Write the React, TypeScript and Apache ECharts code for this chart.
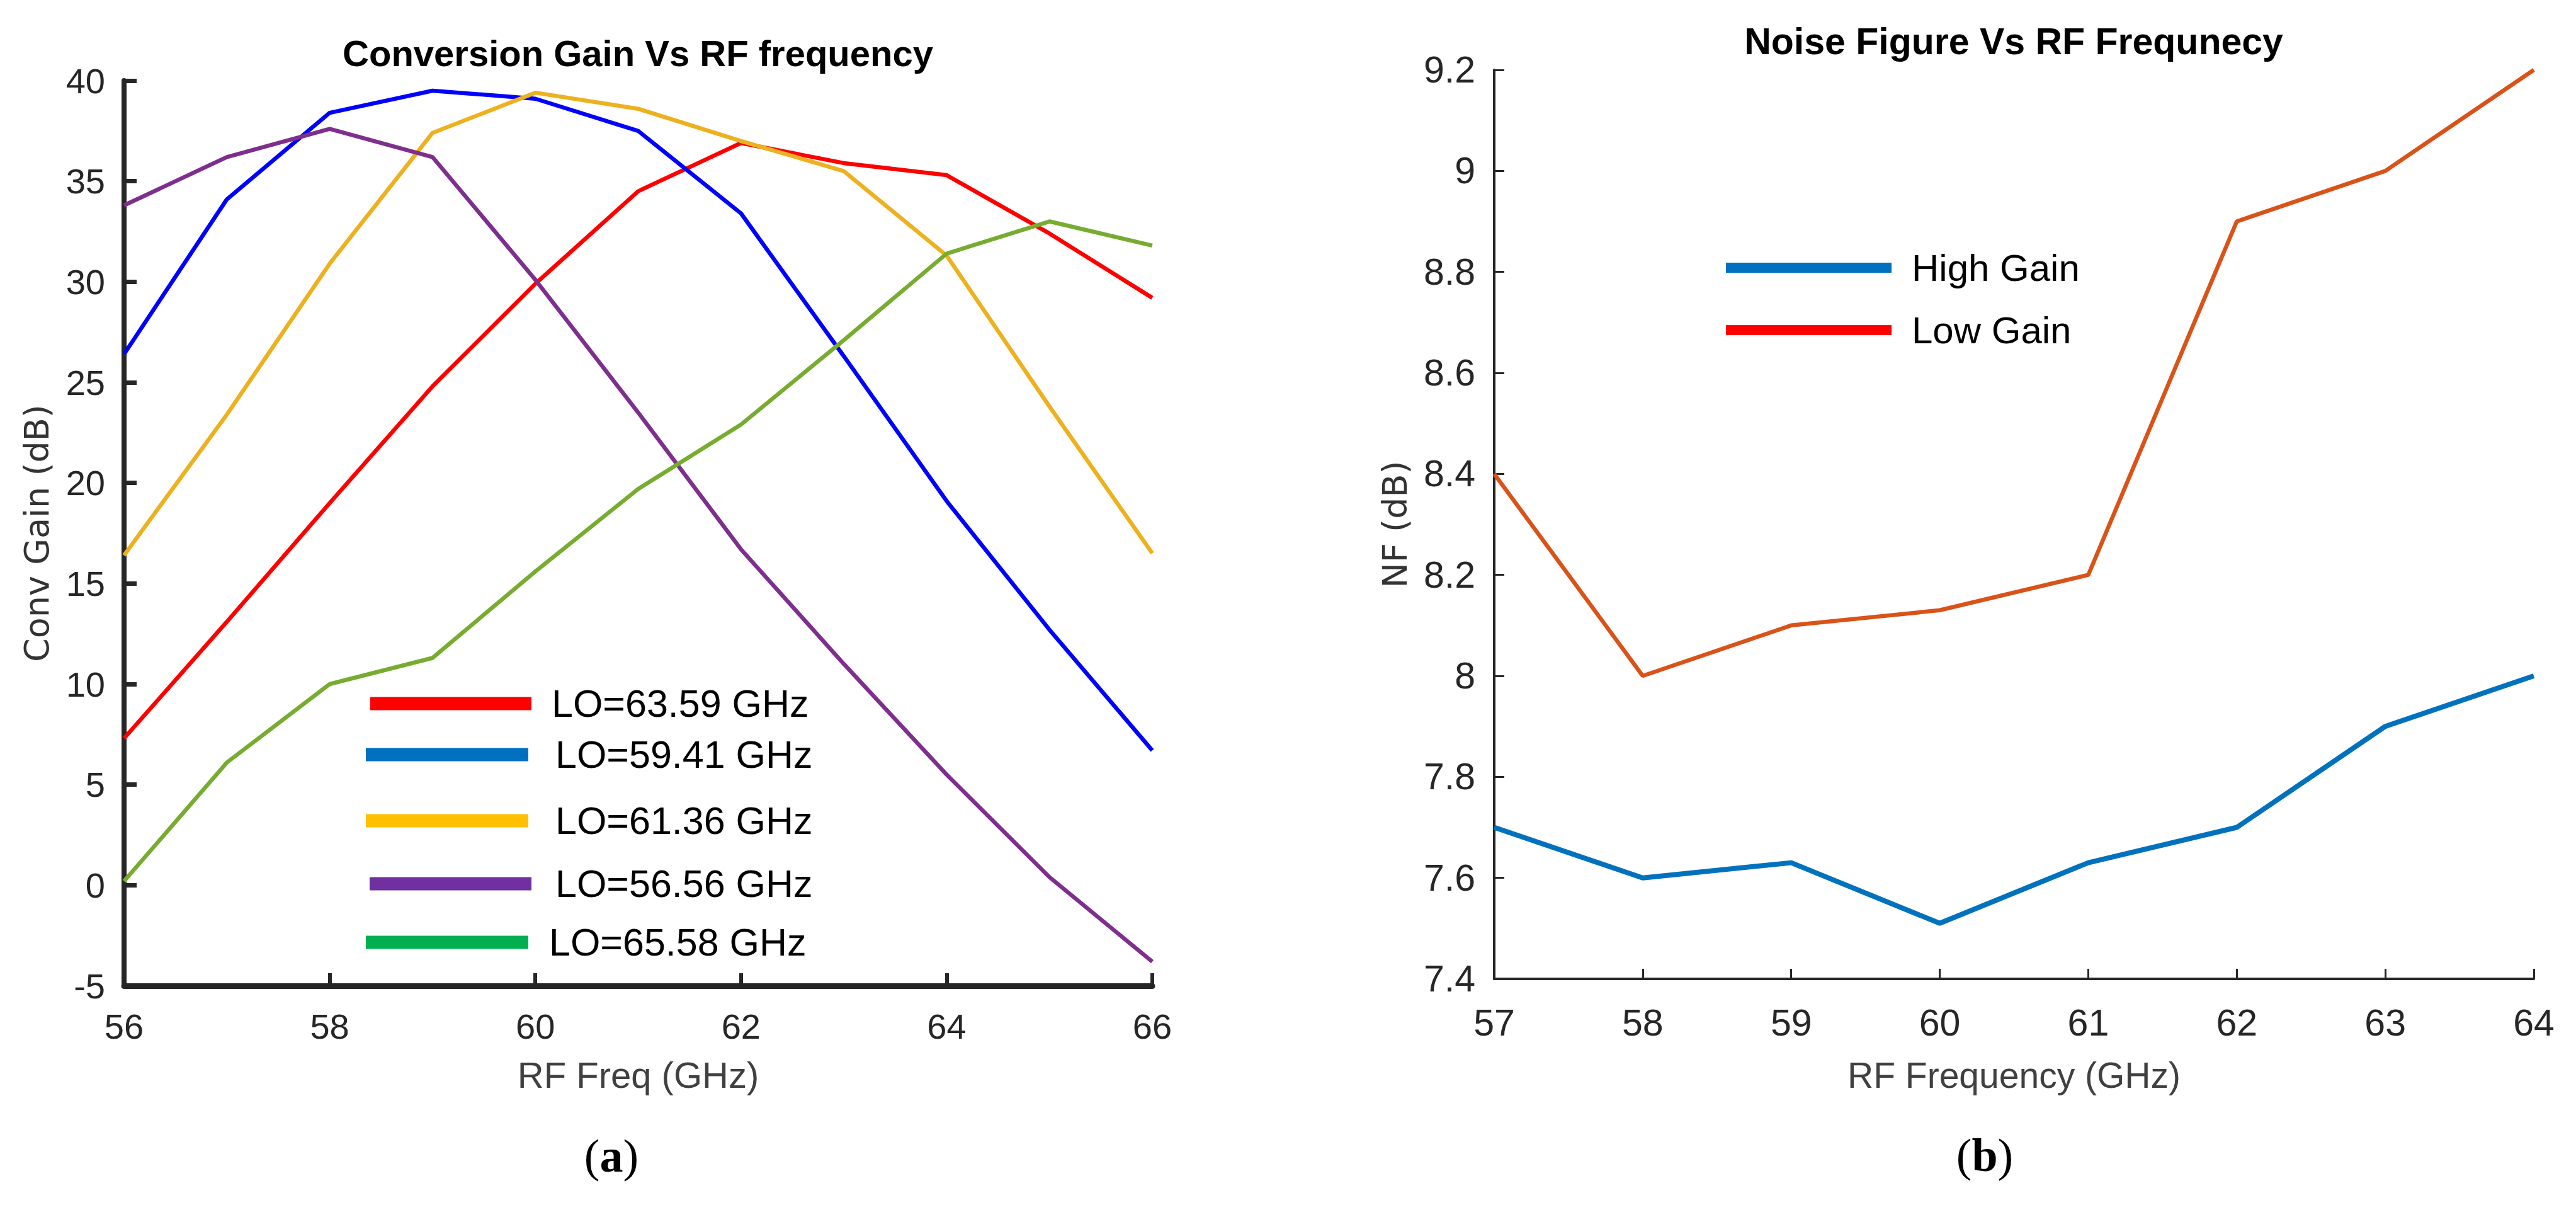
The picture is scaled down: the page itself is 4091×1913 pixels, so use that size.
import React, { useEffect, useRef } from "react";
import * as echarts from "echarts";

// ---------- data ----------
const FREQ_A = [56, 57, 58, 59, 60, 61, 62, 63, 64, 65, 66];
const LO_6359 = [7.3, 13.1, 19.0, 24.8, 29.9, 34.5, 36.9, 35.9, 35.3, 32.4, 29.2];
const LO_5941 = [26.4, 34.1, 38.4, 39.5, 39.1, 37.5, 33.4, 26.3, 19.1, 12.7, 6.7];
const LO_6136 = [16.4, 23.4, 30.9, 37.4, 39.4, 38.6, 37.0, 35.5, 31.3, 23.8, 16.5];
const LO_5656 = [33.8, 36.2, 37.6, 36.2, 30.1, 23.5, 16.7, 11.0, 5.5, 0.4, -3.8];
const LO_6558 = [0.2, 6.1, 10.0, 11.3, 15.6, 19.7, 22.9, 27.1, 31.4, 33.0, 31.8];

const NAMES_A = ["LO=63.59 GHz", "LO=59.41 GHz", "LO=61.36 GHz", "LO=56.56 GHz", "LO=65.58 GHz"];

const FREQ_B = [57, 58, 59, 60, 61, 62, 63, 64];
const HIGH_GAIN = [7.7, 7.6, 7.63, 7.51, 7.63, 7.7, 7.9, 8.0];
const LOW_GAIN = [8.4, 8.0, 8.1, 8.13, 8.2, 8.9, 9.0, 9.2];
const NAMES_B = ["High Gain", "Low Gain"];

// ---------- styles / layout ----------
const SANS = "'Liberation Sans', Arial, sans-serif";
const WIDE = "'DejaVu Sans', Verdana, sans-serif";
const SERIF = "'Liberation Serif', 'Times New Roman', serif";
const AXIS_C = "#262626";

const COLORS_A = ["#FF0000", "#0000FF", "#EDB120", "#7E2F8E", "#77AC30"];
const LEGEND_COLORS_A = ["#FF0000", "#0070C0", "#FFC000", "#7030A0", "#00B050"];
const LEGEND_LAYOUT_A = [
  { left: 588, cy: 1117, w: 256, pad: 27 },
  { left: 581, cy: 1198, w: 258, pad: 38 },
  { left: 581, cy: 1303, w: 258, pad: 38 },
  { left: 587, cy: 1403, w: 257, pad: 33 },
  { left: 581, cy: 1496, w: 258, pad: 28 },
];
const COLORS_B = ["#0072BD", "#D95319"];
const LINE_W_B = [8, 6.5];
const LEGEND_COLORS_B = ["#0070C0", "#FF0000"];
const LEGEND_LAYOUT_B = [
  { left: 2741, cy: 425, w: 263, pad: 27 },
  { left: 2741, cy: 524, w: 263, pad: 27 },
];

export default function App() {
  const ref = useRef<HTMLDivElement>(null);

  useEffect(() => {
    if (!ref.current) return;
    const chart = echarts.init(ref.current, undefined, { renderer: "svg" });

    const seriesA = [LO_6359, LO_5941, LO_6136, LO_5656, LO_6558].map((vals, i) => ({
      type: "line",
      name: NAMES_A[i],
      xAxisIndex: 0,
      yAxisIndex: 0,
      symbol: "none",
      showSymbol: false,
      lineStyle: { color: COLORS_A[i], width: 6.5 },
      itemStyle: { color: COLORS_A[i] },
      data: FREQ_A.map((f, j) => [f, vals[j]]),
    }));
    const seriesB = [HIGH_GAIN, LOW_GAIN].map((vals, i) => ({
      type: "line",
      name: NAMES_B[i],
      xAxisIndex: 1,
      yAxisIndex: 1,
      symbol: "none",
      showSymbol: false,
      lineStyle: { color: COLORS_B[i], width: LINE_W_B[i] },
      itemStyle: { color: COLORS_B[i] },
      data: FREQ_B.map((f, j) => [f, vals[j]]),
    }));

    const mkLegend = (name: string, color: string, lay: any, h: number, fs: number) => ({
      show: true,
      selectedMode: false,
      orient: "horizontal",
      left: lay.left,
      top: lay.cy - 35,
      padding: 0,
      itemWidth: lay.w,
      itemHeight: h,
      icon: "rect",
      data: [{ name, icon: "rect", itemStyle: { color } }],
      textStyle: {
        fontFamily: SANS,
        fontSize: fs,
        color: "#000",
        lineHeight: 70,
        padding: [0, 0, 0, lay.pad],
      },
    });

    const legends = [
      ...NAMES_A.map((n, i) => mkLegend(n, LEGEND_COLORS_A[i], LEGEND_LAYOUT_A[i], 21, 61)),
      ...NAMES_B.map((n, i) => mkLegend(n, LEGEND_COLORS_B[i], LEGEND_LAYOUT_B[i], 16, 60)),
    ];

    const caption = (x: number, y: number, letter: string) => ({
      type: "text",
      x,
      y,
      style: {
        text: `{p|(}{b|${letter}}{p|)}`,
        align: "center",
        verticalAlign: "middle",
        fill: "#000",
        rich: {
          p: { fontFamily: SERIF, fontSize: 74, fill: "#000" },
          b: { fontFamily: SERIF, fontSize: 74, fontWeight: "bold", fill: "#000" },
        },
      },
    });

    chart.setOption({
      animation: false,
      backgroundColor: "#ffffff",
      grid: [
        { left: 197, top: 128, width: 1633, height: 1437, containLabel: false },
        { left: 2373, top: 111, width: 1651, height: 1443, containLabel: false },
      ],
      xAxis: [
        {
          type: "value",
          gridIndex: 0,
          min: 56,
          max: 66,
          interval: 2,
          name: "RF Freq (GHz)",
          nameLocation: "middle",
          nameGap: 112,
          nameTextStyle: { fontFamily: SANS, fontSize: 58, color: "#404040" },
          axisLine: { show: true, onZero: false, lineStyle: { color: AXIS_C, width: 9 } },
          axisTick: { show: true, inside: true, length: 20, lineStyle: { color: AXIS_C, width: 6 } },
          axisLabel: { fontFamily: SANS, fontSize: 56, color: AXIS_C, margin: 36 },
          splitLine: { show: false },
        },
        {
          type: "value",
          gridIndex: 1,
          min: 57,
          max: 64,
          interval: 1,
          name: "RF Frequency (GHz)",
          nameLocation: "middle",
          nameGap: 124,
          nameTextStyle: { fontFamily: SANS, fontSize: 57, color: "#404040" },
          axisLine: { show: true, onZero: false, lineStyle: { color: AXIS_C, width: 4 } },
          axisTick: { show: true, inside: true, length: 16, lineStyle: { color: AXIS_C, width: 3 } },
          axisLabel: { fontFamily: SANS, fontSize: 59, color: AXIS_C, margin: 40 },
          splitLine: { show: false },
        },
      ],
      yAxis: [
        {
          type: "value",
          gridIndex: 0,
          min: -5,
          max: 40,
          interval: 5,
          name: "Conv Gain (dB)",
          nameLocation: "middle",
          nameGap: 112,
          nameTextStyle: { fontFamily: WIDE, fontSize: 54, color: "#333333" },
          axisLine: { show: true, onZero: false, lineStyle: { color: AXIS_C, width: 8 } },
          axisTick: { show: true, inside: true, length: 20, lineStyle: { color: AXIS_C, width: 7 } },
          axisLabel: { fontFamily: SANS, fontSize: 56, color: AXIS_C, margin: 30 },
          splitLine: { show: false },
        },
        {
          type: "value",
          gridIndex: 1,
          min: 7.4,
          max: 9.2,
          interval: 0.2,
          name: "NF (dB)",
          nameLocation: "middle",
          nameGap: 131,
          nameTextStyle: { fontFamily: WIDE, fontSize: 54, color: "#333333" },
          axisLine: { show: true, onZero: false, lineStyle: { color: AXIS_C, width: 4 } },
          axisTick: { show: true, inside: true, length: 16, lineStyle: { color: AXIS_C, width: 3 } },
          axisLabel: { fontFamily: SANS, fontSize: 59, color: AXIS_C, margin: 30 },
          splitLine: { show: false },
        },
      ],
      legend: legends,
      graphic: [
        {
          type: "text",
          x: 1013,
          y: 84,
          style: {
            text: "Conversion Gain Vs RF frequency",
            align: "center",
            verticalAlign: "middle",
            fontFamily: SANS,
            fontSize: 58,
            fontWeight: "bold",
            fill: "#000",
          },
        },
        {
          type: "text",
          x: 3198,
          y: 66,
          style: {
            text: "Noise Figure Vs RF Frequnecy",
            align: "center",
            verticalAlign: "middle",
            fontFamily: SANS,
            fontSize: 59,
            fontWeight: "bold",
            fill: "#000",
          },
        },
        caption(971, 1835, "a"),
        caption(3152, 1834, "b"),
      ],
      series: [...seriesA, ...seriesB],
    });

    return () => chart.dispose();
  }, []);

  return (
    <div
      ref={ref}
      style={{ position: "fixed", left: 0, top: 0, width: 4091, height: 1913, background: "#fff" }}
    />
  );
}
